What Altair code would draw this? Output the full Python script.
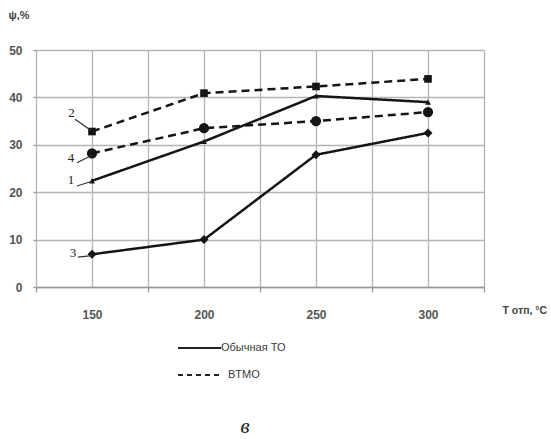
import altair as alt
import pandas as pd

# ---- data ----
temps = [150, 200, 250, 300]
s1 = [22.4, 30.7, 40.3, 39.0]   # curve 1, ordinary heat treatment
s2 = [32.8, 40.9, 42.3, 43.9]   # curve 2, BTMO
s3 = [6.9, 10.0, 27.9, 32.5]    # curve 3, ordinary heat treatment
s4 = [28.2, 33.5, 35.0, 36.9]   # curve 4, BTMO
series_names = ["1", "2", "3", "4"]
series_type = ["Обычная ТО", "BTMO", "Обычная ТО", "BTMO"]
series_shape = ["triangle-up", "square", "diamond", "circle"]
series_size = [35, 105, 40, 55]

# curve number labels and their leader lines (data units)
label_x = [140.6, 140.8, 141.5, 140.6]
label_y = [22.6, 36.7, 7.2, 27.2]
lead_x1 = [143.3, 142.4, 143.7, 143.3]
lead_y1 = [21.3, 35.4, 6.3, 26.2]
lead_x2 = [150.0, 149.6, 150.0, 150.0]
lead_y2 = [22.3, 33.0, 6.6, 27.8]

x_ticks = [125, 150, 175, 200, 225, 250, 275, 300, 325]
y_ticks = [0, 10, 20, 30, 40, 50]
legend_labels = ["Обычная ТО", "BTMO"]
y_title = "ψ,%"
x_title = "T отп, °C"
caption = "в"

rows = []
for name, typ, vals in zip(series_names, series_type, [s1, s2, s3, s4]):
    for t, v in zip(temps, vals):
        rows.append({"T": t, "psi": v, "series": name, "type": typ})
df = pd.DataFrame(rows)

lab_df = pd.DataFrame({"series": series_names, "lx": label_x, "ly": label_y,
                       "x1": lead_x1, "y1": lead_y1, "x2": lead_x2, "y2": lead_y2})

GRID = "#b4b4b4"
TXT = "#3a3a3a"

x_enc = alt.X("T:Q",
              scale=alt.Scale(domain=[125, 325], nice=False, zero=False),
              axis=alt.Axis(values=x_ticks, grid=True, gridColor=GRID, gridWidth=1.3,
                            labelExpr="datum.value % 50 == 0 ? datum.label : ''",
                            tickOpacity={"condition": {"test": "datum.value % 50 == 0", "value": 0}, "value": 1},
                            tickColor="#999999", tickSize=5, tickWidth=1.3,
                            domainColor="#999999", domainWidth=1.3,
                            labelFont="Liberation Sans", labelFontSize=12, labelFontWeight="bold",
                            labelColor="#555555", labelPadding=17,
                            title=x_title, titleFont="Liberation Sans", titleFontSize=10.5,
                            titleFontWeight="bold", titleColor="#444444",
                            titleX=466, titleY=23, titleAlign="left", titleBaseline="middle",
                            titleAngle=0))
y_enc = alt.Y("psi:Q",
              scale=alt.Scale(domain=[0, 50], nice=False),
              axis=alt.Axis(values=y_ticks, grid=True, gridColor=GRID, gridWidth=1.3,
                            domain=False, tickColor="#999999", tickSize=3, tickWidth=1.3,
                            labelFont="Liberation Sans", labelFontSize=12, labelFontWeight="bold",
                            labelColor="#555555", labelPadding=11,
                            title=y_title, titleFont="Liberation Sans", titleFontSize=11,
                            titleFontWeight="bold", titleColor="#444444",
                            titleX=-28, titleY=-35, titleAngle=0, titleAlign="left",
                            titleBaseline="middle"))

dash_scale = alt.Scale(domain=legend_labels, range=[[1, 0], [8, 5]])

lines = alt.Chart(df).mark_line(color="#151515", strokeWidth=2.5).encode(
    x=x_enc, y=y_enc, detail="series:N",
    strokeDash=alt.StrokeDash("type:N", scale=dash_scale, legend=None))

points = alt.Chart(df).mark_point(filled=True, color="#151515", opacity=1).encode(
    x="T:Q", y="psi:Q",
    shape=alt.Shape("series:N", scale=alt.Scale(domain=series_names, range=series_shape), legend=None),
    size=alt.Size("series:N", scale=alt.Scale(domain=series_names, range=series_size), legend=None))

leaders = alt.Chart(lab_df).mark_rule(color="#333333", strokeWidth=1.2).encode(
    x="x1:Q", y="y1:Q", x2="x2:Q", y2="y2:Q")

nums = alt.Chart(lab_df).mark_text(font="Liberation Serif", fontSize=13, color="#222222",
                                   align="center", baseline="middle").encode(
    x="lx:Q", y="ly:Q", text="series:N")

leg1 = pd.DataFrame({"label": [legend_labels[0]]})
leg2 = pd.DataFrame({"label": [legend_labels[1]]})
leg_line1 = alt.Chart(leg1).mark_rule(color="#222222", strokeWidth=2.2).encode(
    x=alt.value(142), x2=alt.value(185), y=alt.value(298))
leg_text1 = alt.Chart(leg1).mark_text(font="Liberation Sans", fontSize=11, color=TXT,
                                      align="left", baseline="middle").encode(
    x=alt.value(185), y=alt.value(298), text="label:N")
leg_line2 = alt.Chart(leg2).mark_rule(color="#222222", strokeWidth=2.2, strokeDash=[5, 4]).encode(
    x=alt.value(142), x2=alt.value(185), y=alt.value(325))
leg_text2 = alt.Chart(leg2).mark_text(font="Liberation Sans", fontSize=11, color=TXT,
                                      align="left", baseline="middle").encode(
    x=alt.value(192), y=alt.value(325), text="label:N")

cap = alt.Chart(pd.DataFrame({"c": [caption]})).mark_text(
    font="Liberation Serif", fontSize=21, fontStyle="italic", color="#222222",
    align="center", baseline="middle").encode(
    x=alt.value(209), y=alt.value(377), text="c:N")

chart = alt.layer(lines, points, leaders, nums, leg_line1, leg_text1, leg_line2, leg_text2, cap).properties(
    width=448, height=237,
    autosize=alt.AutoSizeParams(type="none"),
    padding={"left": 36, "top": 50, "right": 67, "bottom": 152},
    background="white",
).configure_view(stroke=None)

chart.save("out.html", embed_options={"renderer": "svg", "actions": False})
